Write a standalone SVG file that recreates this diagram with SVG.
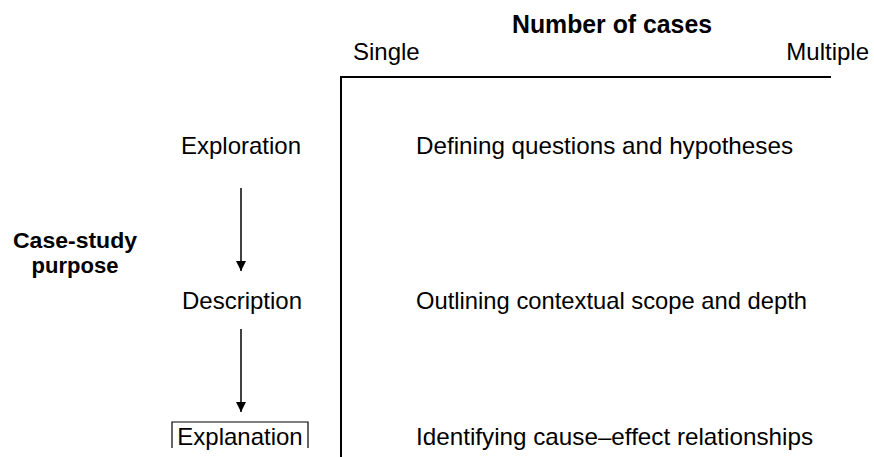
<svg xmlns="http://www.w3.org/2000/svg" width="874" height="457" viewBox="0 0 874 457">
<style>
text{font-family:"Liberation Sans",Arial,sans-serif;fill:#000}
.t{font-size:24px}
.b{font-size:22px;font-weight:bold}
.ln{stroke:#000;stroke-width:2;fill:none}
</style>
<defs>
<marker id="ah" viewBox="0 0 10 10" refX="10" refY="5" markerWidth="10" markerHeight="10" markerUnits="userSpaceOnUse" orient="auto">
<path d="M0,0 L10,5 L0,10 Z" fill="#000"/>
</marker>
</defs>
<rect width="874" height="457" fill="#fff"/>
<g id="header">
<text class="b" x="512" y="33" style="font-size:25px" textLength="200" lengthAdjust="spacingAndGlyphs">Number of cases</text>
<text class="t" x="353" y="60">Single</text>
<text class="t" x="869" y="60" text-anchor="end">Multiple</text>
</g>
<g id="axes">
<path class="ln" d="M341,457 V77 H831"/>
</g>
<g id="purpose">
<text class="b" x="13" y="248" textLength="124" lengthAdjust="spacingAndGlyphs">Case-study</text>
<text class="b" x="75" y="273" text-anchor="middle">purpose</text>
</g>
<g id="exploration"><text class="t" x="241" y="154" text-anchor="middle">Exploration</text></g>
<g id="description"><text class="t" x="242" y="309" text-anchor="middle">Description</text></g>
<g id="explanation">
<path d="M172,448 V422 H308 V448" stroke="#000" stroke-width="1.2" fill="none"/>
<text class="t" x="240" y="445" text-anchor="middle">Explanation</text>
</g>
<g id="row1"><text class="t" x="416" y="154" textLength="377" lengthAdjust="spacingAndGlyphs">Defining questions and hypotheses</text></g>
<g id="row2"><text class="t" x="416" y="309" textLength="391" lengthAdjust="spacingAndGlyphs">Outlining contextual scope and depth</text></g>
<g id="row3"><text class="t" x="416" y="445" textLength="397" lengthAdjust="spacingAndGlyphs">Identifying cause–effect relationships</text></g>
<g id="connectors">
<line x1="241" y1="188" x2="241" y2="271" stroke="#000" stroke-width="1.5" marker-end="url(#ah)"/>
<line x1="241" y1="329" x2="241" y2="412" stroke="#000" stroke-width="1.5" marker-end="url(#ah)"/>
</g>
</svg>
